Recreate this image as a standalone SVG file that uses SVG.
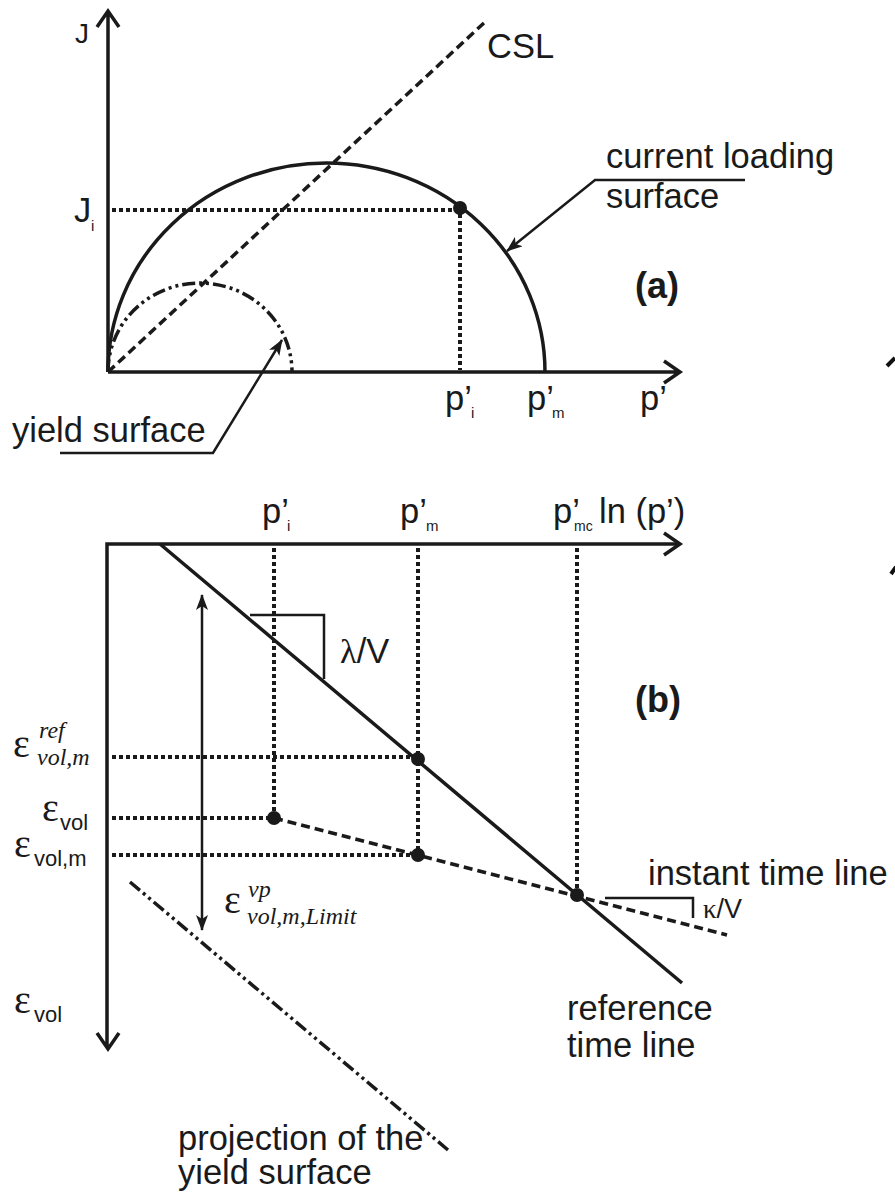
<svg xmlns="http://www.w3.org/2000/svg" width="895" height="1194" viewBox="0 0 895 1194">
<style>
.ax{fill:none;stroke:#1a1a1a;stroke-width:3.5;stroke-linejoin:miter}
.sol{fill:none;stroke:#1a1a1a;stroke-width:3.5}
.thin{fill:none;stroke:#1a1a1a;stroke-width:2.5}
.dot{fill:none;stroke:#1a1a1a;stroke-width:4;stroke-dasharray:4 3}
.dash{fill:none;stroke:#1a1a1a;stroke-width:3.5;stroke-dasharray:9 5}
.dd{fill:none;stroke:#1a1a1a;stroke-width:3.5;stroke-dasharray:13 4 3 4 3 4}
.pt{fill:#1a1a1a}
text{font-family:"Liberation Sans",Arial,sans-serif;font-size:34.5px;fill:#1a1a1a}
.sub{font-size:15px}
.bold{font-weight:bold;font-size:36px}
.eps{font-family:"Liberation Serif","Times New Roman",serif;font-size:40px}
.it{font-family:"Liberation Serif","Times New Roman",serif;font-style:italic;font-size:24px}
.gr{font-family:"Liberation Serif","Times New Roman",serif}
.sv{font-size:22px}
</style>
<defs>
<marker id="fa" viewBox="0 0 16 12" refX="15" refY="6" markerWidth="16" markerHeight="12" markerUnits="userSpaceOnUse" orient="auto-start-reverse">
<path d="M0,0 L16,6 L0,12 L4,6 z" fill="#1a1a1a"/>
</marker>
</defs>

<g id="chart-a">
<g id="axes-a">
<path class="ax" d="M108,372 V12 M97,27 L108,11 L119,27"/>
<path class="ax" d="M108,372 H679 M664,361 L680,372 L664,383"/>
</g>
<g id="curves-a">
<path id="csl" class="dash" d="M108,372 L485,22"/>
<path id="current-loading-surface" class="sol" d="M108,372 A218.5,209 0 0 1 545,372"/>
<path id="yield-surface" class="dd" d="M108,372 A92,89 0 0 1 292,372"/>
<path class="dot" d="M112,210 H455"/>
<path class="dot" d="M460,214 V370"/>
<circle class="pt" cx="460" cy="208" r="7"/>
</g>
<g id="labels-a">
<text x="75" y="43" style="font-size:28px">J</text>
<text x="74" y="222">J</text><text x="91" y="231" class="sub">i</text>
<text x="487" y="58">CSL</text>
<text x="445" y="410">p’</text><text x="471" y="418" class="sub">i</text>
<text x="527" y="410">p’</text><text x="552" y="418" class="sub">m</text>
<text x="640" y="410">p’</text>
<text x="635" y="298" class="bold">(a)</text>
</g>
<g id="leader-current">
<path class="thin" d="M745,180 H595 L507,251" marker-end="url(#fa)"/>
<text x="606" y="168">current loading</text>
<text x="606" y="208">surface</text>
</g>
<g id="leader-yield">
<path class="thin" d="M60,453 H213 L282,340" marker-end="url(#fa)"/>
<text x="12" y="442">yield surface</text>
</g>
</g>

<g id="edge-marks">
<path d="M887,366 L895,358" stroke="#111" stroke-width="4"/>
<path d="M891,574 L896,567" stroke="#111" stroke-width="4"/>
</g>

<g id="chart-b">
<g id="axes-b">
<path class="ax" d="M679,544 H107 V1048 M97,1033 L108,1049 L119,1033"/>
<path class="ax" d="M664,533 L680,544 L664,555"/>
</g>
<g id="connectors-b">
<path id="reference-time-line" class="sol" d="M160,544 L682,983"/>
<path id="instant-time-line" class="dash" d="M274,818 L727,935"/>
<path id="projection" class="dd" d="M130,882 L448,1150"/>
<path class="dot" d="M274,548 V814 M418,548 V754 M418,762 V851 M577,548 V892"/>
<path class="dot" d="M112,757 H414 M112,818 H270 M112,855 H414"/>
<path class="thin" d="M202,595 V930" marker-start="url(#fa)" marker-end="url(#fa)"/>
<path class="thin" d="M250,615 H324 V679"/>
<path class="thin" d="M605,898 H693 V918"/>
<circle class="pt" cx="274" cy="818" r="7"/>
<circle class="pt" cx="418" cy="759" r="7"/>
<circle class="pt" cx="418" cy="855" r="7"/>
<circle class="pt" cx="577" cy="895" r="7"/>
</g>
<g id="labels-b">
<text x="262" y="523">p’</text><text x="287" y="531" class="sub">i</text>
<text x="400" y="523">p’</text><text x="426" y="531" class="sub">m</text>
<text x="553" y="523">p’</text><text x="574" y="531" style="font-size:14px">mc</text>
<text x="599" y="523">ln (p’)</text>
<text x="340" y="663"><tspan class="gr">λ</tspan>/V</text>
<text x="635" y="712" class="bold">(b)</text>
<text x="703" y="918" style="font-size:27px"><tspan class="gr">κ</tspan>/V</text>
<text x="648" y="885">instant time line</text>
<text x="567" y="1020">reference</text>
<text x="567" y="1057">time line</text>
<text x="178" y="1150">projection of the</text>
<text x="178" y="1184">yield surface</text>
<text x="13" y="757" class="eps">ε</text><text x="39" y="738" class="it">ref</text><text x="37" y="765" class="it">vol,m</text>
<text x="42" y="821" class="eps">ε</text><text x="60" y="830" class="sv">vol</text>
<text x="14" y="857" class="eps">ε</text><text x="34" y="866" class="sv">vol,m</text>
<text x="224" y="913" class="eps">ε</text><text x="248" y="897" class="it">vp</text><text x="247" y="924" class="it">vol,m,Limit</text>
<text x="14" y="1013" class="eps">ε</text><text x="34" y="1022" class="sv">vol</text>
</g>
</g>
</svg>
